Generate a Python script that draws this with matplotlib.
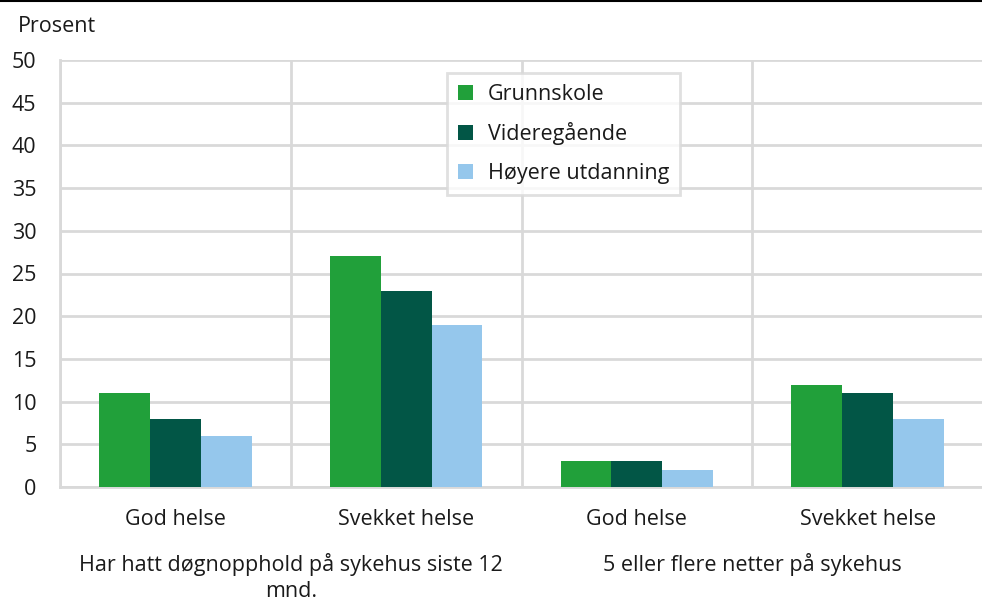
import numpy as np
import matplotlib.pyplot as plt
from matplotlib.lines import Line2D

plt.rcParams['font.family'] = ['Open Sans', 'DejaVu Sans']

categories = ["God helse", "Svekket helse", "God helse", "Svekket helse"]
groups = ["Har hatt døgnopphold på sykehus siste 12\nmnd.", "5 eller flere netter på sykehus"]
series = ["Grunnskole", "Videregående", "Høyere utdanning"]
grunnskole = [11, 27, 3, 12]
videregaende = [8, 23, 3, 11]
hoyere = [6, 19, 2, 8]
colors = ["#21a03a", "#025646", "#95c7ec"]

FS = 15.5
TXT = "#1a1a1a"

fig = plt.figure(figsize=(9.82, 6.01), dpi=100)
ax = fig.add_axes([60 / 982, 1 - 487 / 601, 923 / 982, 427 / 601])

x = np.arange(len(categories))
w = 0.22
for i, (vals, name) in enumerate(zip([grunnskole, videregaende, hoyere], series)):
    ax.bar(x + (i - 1) * w, vals, width=w, color=colors[i], label=name, zorder=3)

ax.set_xlim(-0.5, len(categories) - 0.5)
ax.set_ylim(0, 50)
ax.set_yticks(range(0, 51, 5))
ax.set_xticks(x)
ax.set_xticklabels(categories, fontsize=FS, color=TXT)
ax.tick_params(axis="y", labelsize=FS, colors=TXT, length=0, pad=17)
ax.tick_params(axis="x", length=0, pad=16)
ax.grid(axis="y", color="#d9d9d9", linewidth=2, zorder=0)
ax.set_xticks(np.arange(-0.5, len(categories), 1), minor=True)
ax.grid(axis="x", which="minor", color="#d9d9d9", linewidth=2, zorder=0)
ax.tick_params(axis="x", which="minor", length=0)
for s in ["top", "right"]:
    ax.spines[s].set_visible(False)
for s in ["left", "bottom"]:
    ax.spines[s].set_color("#d9d9d9")
    ax.spines[s].set_linewidth(2)

fig.text(18 / 982, 1 - 26 / 601, "Prosent", fontsize=FS, color=TXT, va="center")

for gi, g in enumerate(groups):
    xc = gi * 2 + 0.5
    ax.text(xc, -0.155, g, transform=ax.get_xaxis_transform(), ha="center", va="top",
            fontsize=FS, color=TXT, linespacing=1.3)

leg = ax.legend(loc="upper left", bbox_to_anchor=(387 / 923, (487 - 73) / 427),
                fontsize=FS, frameon=True, fancybox=False, edgecolor="#d9d9d9",
                handlelength=0.7, handleheight=0.7, labelspacing=0.82, borderpad=0.5,
                handletextpad=0.7, borderaxespad=0)
leg.get_frame().set_linewidth(2)
leg.set_zorder(5)
for t in leg.get_texts():
    t.set_color(TXT)

fig.add_artist(Line2D([0, 1], [1 - 1 / 601, 1 - 1 / 601], color="black", linewidth=1.5))

fig.savefig("out.png", dpi=100)
